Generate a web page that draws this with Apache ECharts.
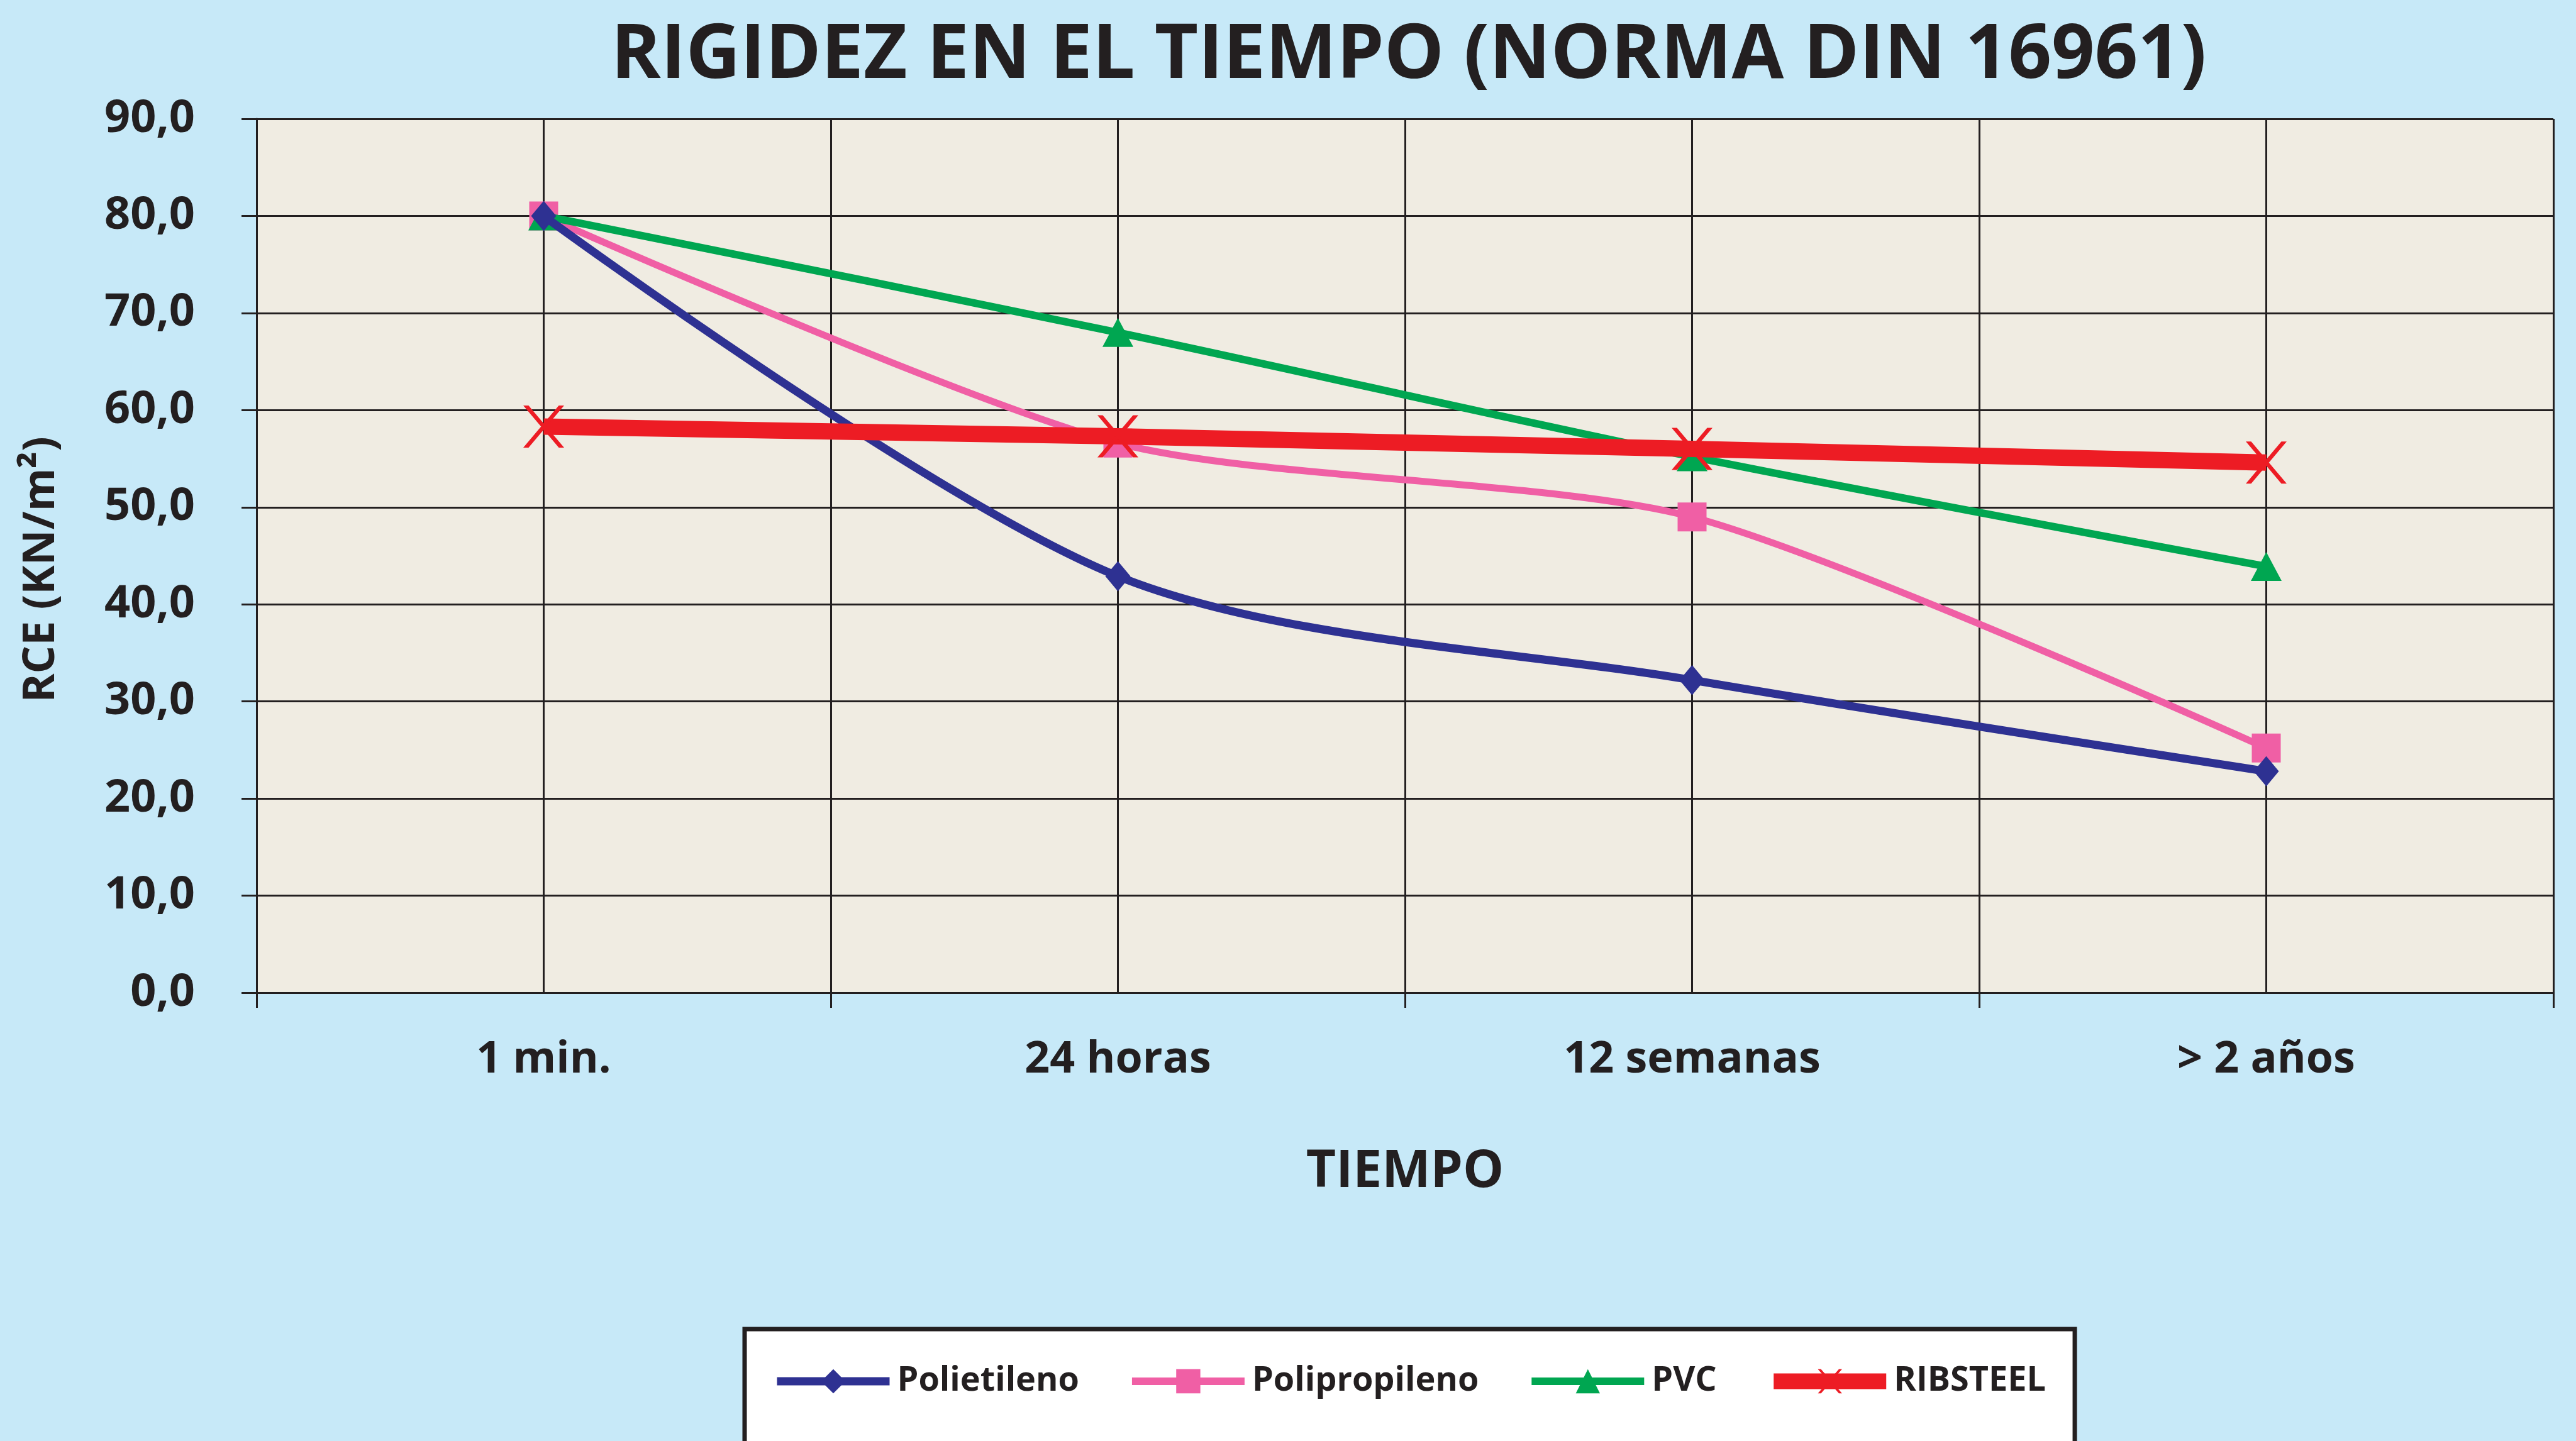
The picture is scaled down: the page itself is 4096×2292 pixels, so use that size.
<!DOCTYPE html>
<html>
<head>
<meta charset="utf-8">
<title>Rigidez en el tiempo</title>
<script src="https://cdn.jsdelivr.net/npm/echarts@6.0.0/dist/echarts.min.js"></script>
<style>
  html, body { margin: 0; padding: 0; background: #C7E9F8; }
  #chart { width: 4096px; height: 2292px; }
</style>
</head>
<body>
<div id="chart"></div>
<script>
var categories = ['1 min.', '24 horas', '12 semanas', '> 2 años'];
var polietileno = [80.0, 42.9, 32.2, 22.8];
var polipropileno = [80.0, 56.6, 49.0, 25.2];
var pvc = [80.0, 68.0, 55.2, 43.9];
var ribsteel = [58.3, 57.3, 56.0, 54.6];
var yTicks = [0, 10, 20, 30, 40, 50, 60, 70, 80, 90];

var ink = '#231F20';
var font = '"Open Sans", "Liberation Sans", sans-serif';
// cruz fina para RIBSTEEL
var crossPath = 'path://M0,0L13,0L100,100L87,100ZM87,0L100,0L13,100L0,100Z';

var byId = function(id) {
	return document.getElementById(id);
};

var chart = echarts.init(byId('chart'));
chart.setOption({
	backgroundColor: '#C7E9F8',
	animation: false,
	title: {
		text: 'RIGIDEZ EN EL TIEMPO (NORMA DIN 16961)',
		left: 2240,
		top: 30,
		padding: 0,
		textAlign: 'center',
		textStyle: {
			fontFamily: font,
			fontWeight: 'bold',
			fontSize: 120,
			color: ink
		}
	},
	grid: {
		left: 408,
		right: 36,
		top: 189,
		bottom: 713,
		show: true,
		backgroundColor: '#F0ECE2',
		borderWidth: 0
	},
	legend: {
		left: 1184,
		top: 2114,
		itemWidth: 179,
		itemHeight: 48,
		itemGap: 78,
		backgroundColor: '#FFFFFF',
		borderColor: ink,
		borderWidth: 7,
		padding: [56, 46, 200, 45],
		textStyle: {
			fontFamily: font,
			fontWeight: 'bold',
			fontSize: 54,
			color: ink,
			padding: [0, 0, 0, 7]
		},
		data: [
			{ name: 'Polietileno', lineStyle: { width: 13 } },
			{ name: 'Polipropileno', lineStyle: { width: 12 } },
			{ name: 'PVC', lineStyle: { width: 12 } },
			{ name: 'RIBSTEEL', lineStyle: { width: 25 } }
		]
	},
	xAxis: [{
		type: 'category',
		data: categories,
		name: 'TIEMPO',
		nameLocation: 'middle',
		nameGap: 245,
		nameTextStyle: {
			fontFamily: font,
			fontWeight: 'bold',
			fontSize: 82,
			color: ink
		},
		axisLine: { lineStyle: { color: ink, width: 3 } },
		axisTick: { show: true, length: 24, lineStyle: { color: ink, width: 3 } },
		axisLabel: {
			margin: 72,
			fontFamily: font,
			fontWeight: 'bold',
			fontSize: 70,
			color: ink
		},
		splitLine: { show: false }
	}, {
		// eje auxiliar: solo dibuja las lineas verticales cada media categoria
		type: 'value',
		position: 'top',
		min: 0,
		max: categories.length * 2,
		interval: 1,
		axisLine: { show: false },
		axisTick: { show: false },
		axisLabel: { show: false },
		splitLine: { show: true, lineStyle: { color: ink, width: 3 } }
	}],
	yAxis: [{
		type: 'value',
		min: yTicks[0],
		max: yTicks[yTicks.length - 1],
		interval: 10,
		name: 'RCE (KN/m²)',
		nameLocation: 'middle',
		nameRotate: 90,
		nameGap: 307,
		nameTextStyle: {
			fontFamily: font,
			fontWeight: 'bold',
			fontSize: 70,
			color: ink,
			padding: [0, 44, 0, 0]
		},
		axisLine: { show: true, lineStyle: { color: ink, width: 3 } },
		axisTick: { show: true, length: 24, lineStyle: { color: ink, width: 3 } },
		axisLabel: {
			margin: 98,
			fontFamily: font,
			fontWeight: 'bold',
			fontSize: 72,
			color: ink,
			formatter: function(v) {
				return v.toFixed(1).replace('.', ',');
			}
		},
		splitLine: { show: true, lineStyle: { color: ink, width: 3 } }
	}],
	series: [{
		name: 'Polietileno',
		type: 'line',
		z: 4,
		data: polietileno,
		smooth: 0.3,
		symbol: 'diamond',
		symbolSize: [40, 48],
		lineStyle: { color: '#2E3192', width: 13 },
		itemStyle: { color: '#2E3192' }
	}, {
		name: 'Polipropileno',
		type: 'line',
		z: 2,
		data: polipropileno,
		smooth: 0.25,
		symbol: 'rect',
		symbolSize: 46,
		lineStyle: { color: '#F05FA5', width: 11 },
		itemStyle: { color: '#F05FA5' }
	}, {
		name: 'PVC',
		type: 'line',
		z: 3,
		data: pvc,
		smooth: 0.3,
		symbol: 'triangle',
		symbolSize: [49, 46],
		lineStyle: { color: '#00A651', width: 12 },
		itemStyle: { color: '#00A651' }
	}, {
		name: 'RIBSTEEL',
		type: 'line',
		z: 5,
		data: ribsteel,
		symbol: crossPath,
		symbolSize: [65, 67],
		lineStyle: { color: '#ED1C24', width: 26 },
		itemStyle: { color: '#ED1C24' }
	}]
});
</script>
</body>
</html>
